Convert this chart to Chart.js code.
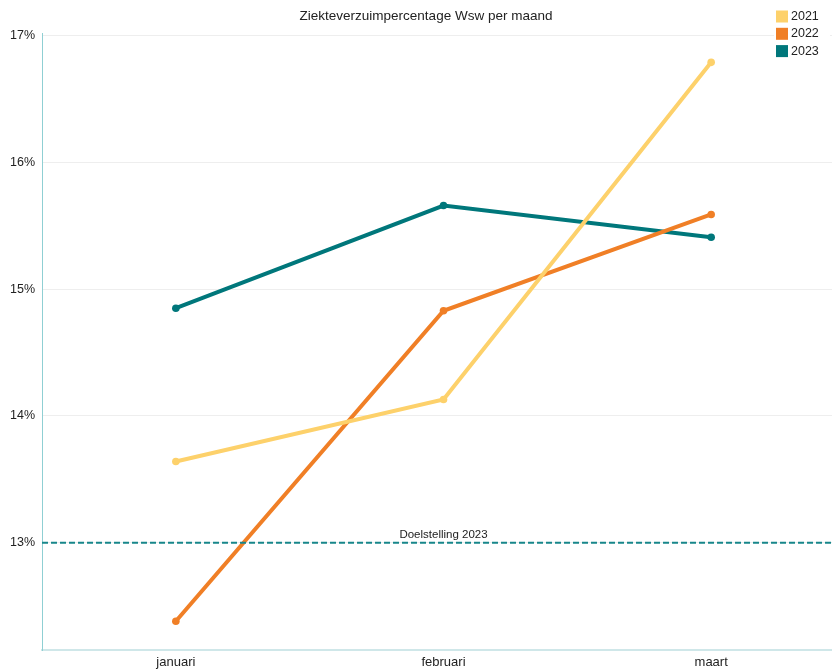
<!DOCTYPE html>
<html>
<head>
<meta charset="utf-8">
<script src="https://cdn.jsdelivr.net/npm/chart.js@4"></script>
<style>
  html, body { margin: 0; padding: 0; background: #fff; overflow: hidden; }
  /* the plot runs a little past the right edge of the window, as in the picture */
  #wrap { width: 849px; height: 670px; }
</style>
</head>
<body>
<div id="wrap"><canvas id="verzuimChart"></canvas></div>
<script>
// data
var months = ['januari', 'februari', 'maart'];
var years = ['2021', '2022', '2023'];
var values2021 = [13.64, 14.13, 16.79];
var values2022 = [12.38, 14.83, 15.59];
var values2023 = [14.85, 15.66, 15.41];
var yearColors = ['#fdd16b', '#f07f26', '#00777b'];
var target = 13;
var targetLabel = 'Doelstelling 2023';
var yTicks = [13, 14, 15, 16, 17];

// dashed target line with its label
var targetLinePlugin = {
    id: 'targetLine',
    afterDatasetsDraw: function (chart) {
        var ctx = chart.ctx;
        var area = chart.chartArea;
        var y = chart.scales.y.getPixelForValue(target);
        ctx.save();
        ctx.strokeStyle = '#17868a';
        ctx.lineWidth = 2;
        ctx.setLineDash([6, 3]);
        ctx.beginPath();
        ctx.moveTo(area.left, y);
        ctx.lineTo(area.right, y);
        ctx.stroke();
        ctx.setLineDash([]);
        ctx.fillStyle = '#222';
        ctx.font = '11.5px "Liberation Sans", Arial, sans-serif';
        ctx.textAlign = 'center';
        ctx.textBaseline = 'bottom';
        ctx.fillText(targetLabel, chart.scales.x.getPixelForValue(1), y - 2);
        ctx.restore();
    }
};

// small vertical legend in the top right corner, over the plot
var cornerLegendPlugin = {
    id: 'cornerLegend',
    afterDraw: function (chart) {
        var ctx = chart.ctx;
        var x = 776;
        ctx.save();
        ctx.font = '12.5px "Liberation Sans", Arial, sans-serif';
        ctx.textBaseline = 'middle';
        ctx.textAlign = 'left';
        chart.data.datasets.forEach(function (ds, i) {
            var cy = 16.5 + i * 17.3;
            ctx.fillStyle = '#fff';
            ctx.fillRect(x - 2, cy - 8, 56, 17);
            ctx.fillStyle = ds.borderColor;
            ctx.fillRect(x, cy - 6, 12, 12);
            ctx.fillStyle = '#222';
            ctx.fillText(ds.label, x + 15, cy);
        });
        ctx.restore();
    }
};

var seriesValues = [values2021, values2022, values2023];
var datasets = years.map(function (yr, i) {
    return {
        label: yr,
        data: seriesValues[i],
        borderColor: yearColors[i],
        backgroundColor: yearColors[i],
        borderWidth: 4,
        pointRadius: 3.8,
        pointBorderWidth: 0,
        pointHoverRadius: 4,
        tension: 0
    };
});

var ctx1 = document.getElementById('verzuimChart').getContext('2d');
var verzuimChart = new Chart(ctx1, {
    type: 'line',
    data: {
        labels: months,
        datasets: datasets
    },
    options: {
        responsive: true,
        maintainAspectRatio: false,
        animation: false,
        layout: { padding: { left: 3, right: 0, top: 0, bottom: -4 } },
        plugins: {
            legend: { display: false },
            tooltip: { enabled: false },
            title: {
                display: true,
                text: 'Ziekteverzuimpercentage Wsw per maand',
                color: '#222',
                font: { family: '"Liberation Sans", Arial, sans-serif', size: 13.5, weight: 'normal' },
                padding: { top: 8, bottom: 9 }
            }
        },
        scales: {
            x: {
                offset: true,
                grid: { display: false, drawTicks: false },
                border: { color: '#cfe7e9', width: 2 },
                ticks: {
                    color: '#222',
                    padding: 4,
                    font: { family: '"Liberation Sans", Arial, sans-serif', size: 13 }
                }
            },
            y: {
                min: 12.15,
                max: 17.02,
                afterBuildTicks: function (axis) {
                    axis.ticks = yTicks.map(function (v) { return { value: v }; });
                },
                grid: { color: '#eeeeee', drawTicks: false },
                border: { color: '#8fcfd3', width: 1 },
                ticks: {
                    color: '#222',
                    padding: 7,
                    font: { family: '"Liberation Sans", Arial, sans-serif', size: 12.5 },
                    callback: function (v) { return v + '%'; }
                }
            }
        }
    },
    plugins: [targetLinePlugin, cornerLegendPlugin]
});
</script>
</body>
</html>
